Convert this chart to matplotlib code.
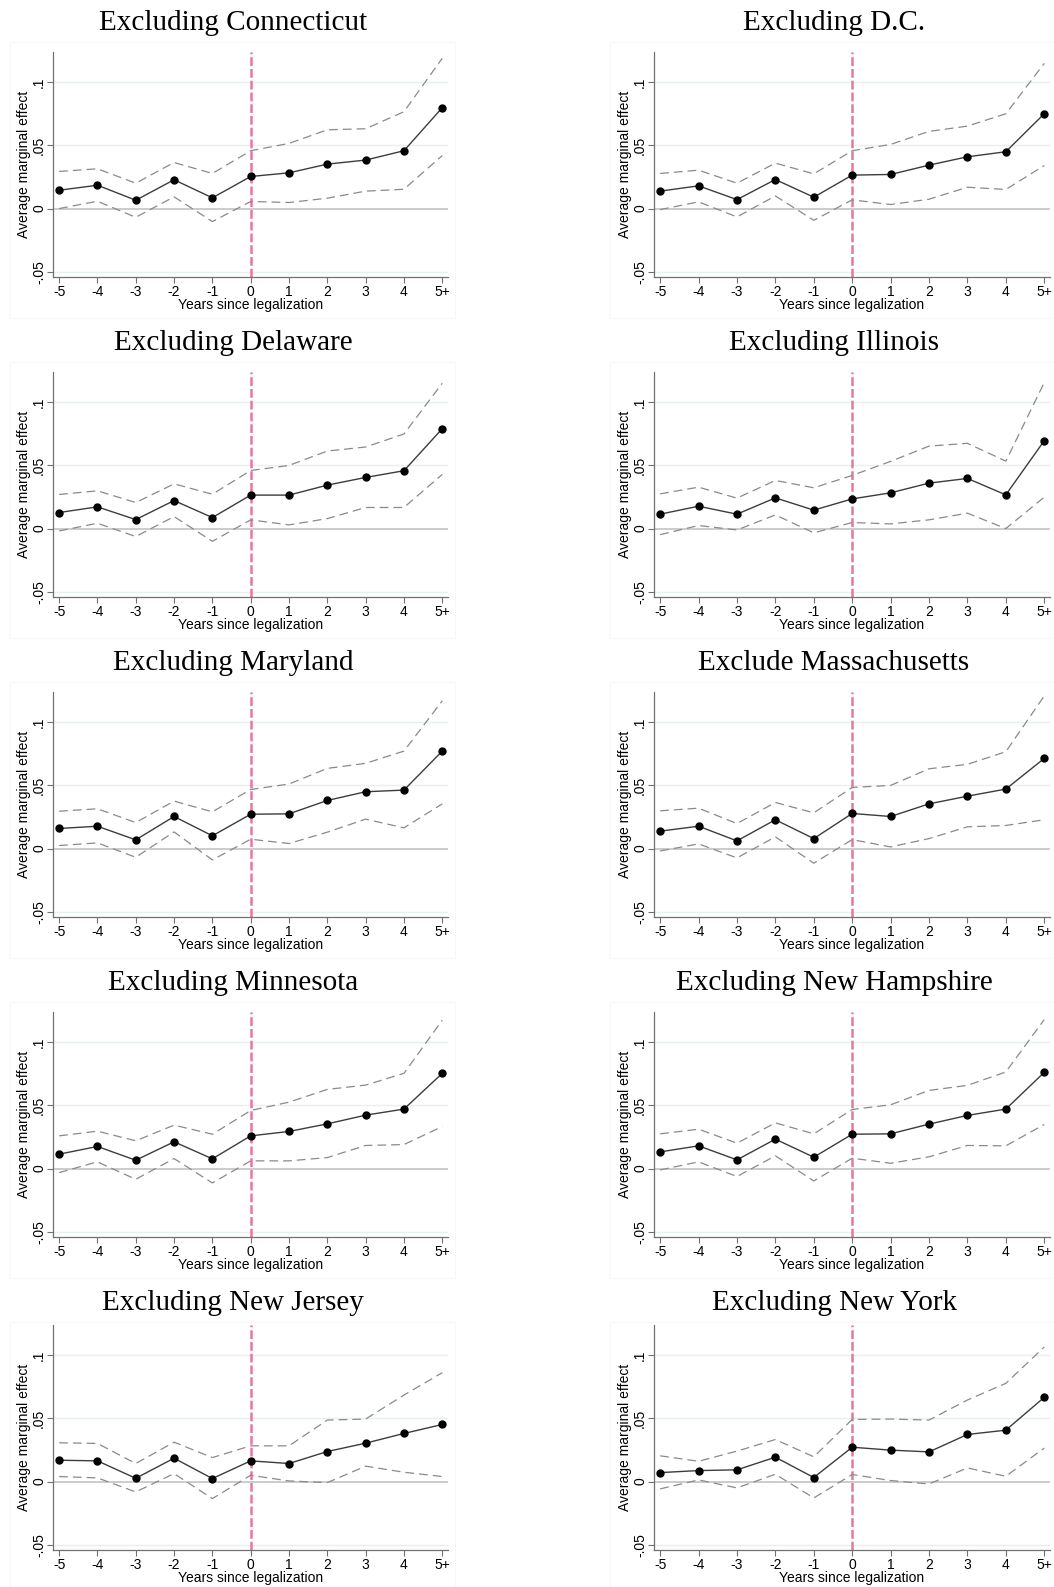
import matplotlib
matplotlib.use("Agg")
import matplotlib.pyplot as plt
from matplotlib.patches import Rectangle

years = [-5, -4, -3, -2, -1, 0, 1, 2, 3, 4, 5]
year_labels = ["-5", "-4", "-3", "-2", "-1", "0", "1", "2", "3", "4", "5+"]

titles = [
    "Excluding Connecticut", "Excluding D.C.",
    "Excluding Delaware", "Excluding Illinois",
    "Excluding Maryland", "Exclude Massachusetts",
    "Excluding Minnesota", "Excluding New Hampshire",
    "Excluding New Jersey", "Excluding New York",
]

# point estimates, upper and lower 95% bounds for each excluded state
ct_est = [0.0145, 0.0185, 0.0066, 0.0228, 0.0085, 0.0254, 0.0283, 0.0352, 0.0384, 0.0458, 0.0799]
ct_hi = [0.0294, 0.0315, 0.0201, 0.0365, 0.0278, 0.0458, 0.0516, 0.0624, 0.0632, 0.0767, 0.1190]
ct_lo = [0.0000, 0.0058, -0.0069, 0.0093, -0.0103, 0.0056, 0.0048, 0.0082, 0.0138, 0.0153, 0.0420]

dc_est = [0.0138, 0.0180, 0.0071, 0.0230, 0.0090, 0.0265, 0.0270, 0.0344, 0.0410, 0.0450, 0.0751]
dc_hi = [0.0278, 0.0304, 0.0201, 0.0360, 0.0275, 0.0458, 0.0508, 0.0611, 0.0653, 0.0751, 0.1150]
dc_lo = [-0.0008, 0.0053, -0.0066, 0.0100, -0.0093, 0.0069, 0.0032, 0.0074, 0.0169, 0.0151, 0.0341]

de_est = [0.0127, 0.0172, 0.0071, 0.0222, 0.0087, 0.0265, 0.0265, 0.0344, 0.0405, 0.0458, 0.0791]
de_hi = [0.0270, 0.0299, 0.0206, 0.0354, 0.0272, 0.0460, 0.0500, 0.0614, 0.0646, 0.0749, 0.1151]
de_lo = [-0.0019, 0.0042, -0.0063, 0.0095, -0.0101, 0.0069, 0.0029, 0.0079, 0.0167, 0.0167, 0.0429]

il_est = [0.0114, 0.0177, 0.0114, 0.0243, 0.0146, 0.0235, 0.0283, 0.0360, 0.0397, 0.0267, 0.0696]
il_hi = [0.0275, 0.0328, 0.0241, 0.0381, 0.0323, 0.0421, 0.0532, 0.0653, 0.0675, 0.0534, 0.1156]
il_lo = [-0.0048, 0.0024, -0.0011, 0.0108, -0.0034, 0.0048, 0.0037, 0.0069, 0.0122, 0.0000, 0.0249]

md_est = [0.0159, 0.0177, 0.0069, 0.0254, 0.0101, 0.0272, 0.0275, 0.0381, 0.0450, 0.0463, 0.0772]
md_hi = [0.0296, 0.0315, 0.0206, 0.0376, 0.0291, 0.0468, 0.0511, 0.0635, 0.0675, 0.0772, 0.1170]
md_lo = [0.0024, 0.0045, -0.0069, 0.0132, -0.0090, 0.0074, 0.0040, 0.0130, 0.0233, 0.0164, 0.0354]

ma_est = [0.0138, 0.0177, 0.0061, 0.0228, 0.0079, 0.0278, 0.0254, 0.0354, 0.0415, 0.0471, 0.0714]
ma_hi = [0.0299, 0.0320, 0.0198, 0.0365, 0.0283, 0.0484, 0.0500, 0.0632, 0.0667, 0.0767, 0.1209]
ma_lo = [-0.0019, 0.0037, -0.0074, 0.0093, -0.0116, 0.0071, 0.0013, 0.0079, 0.0172, 0.0183, 0.0228]

mn_est = [0.0114, 0.0175, 0.0066, 0.0212, 0.0077, 0.0259, 0.0294, 0.0354, 0.0423, 0.0471, 0.0754]
mn_hi = [0.0259, 0.0296, 0.0220, 0.0344, 0.0272, 0.0460, 0.0526, 0.0627, 0.0661, 0.0754, 0.1175]
mn_lo = [-0.0032, 0.0053, -0.0085, 0.0079, -0.0114, 0.0061, 0.0061, 0.0087, 0.0183, 0.0190, 0.0333]

nh_est = [0.0132, 0.0180, 0.0069, 0.0233, 0.0090, 0.0272, 0.0275, 0.0352, 0.0421, 0.0471, 0.0762]
nh_hi = [0.0275, 0.0312, 0.0201, 0.0362, 0.0275, 0.0468, 0.0505, 0.0619, 0.0659, 0.0765, 0.1180]
nh_lo = [-0.0011, 0.0053, -0.0063, 0.0101, -0.0098, 0.0082, 0.0042, 0.0093, 0.0183, 0.0180, 0.0349]

nj_est = [0.0169, 0.0164, 0.0026, 0.0185, 0.0024, 0.0164, 0.0143, 0.0238, 0.0304, 0.0381, 0.0452]
nj_hi = [0.0307, 0.0302, 0.0143, 0.0312, 0.0190, 0.0283, 0.0283, 0.0487, 0.0495, 0.0685, 0.0862]
nj_lo = [0.0040, 0.0029, -0.0082, 0.0063, -0.0135, 0.0050, 0.0005, -0.0008, 0.0122, 0.0074, 0.0040]

ny_est = [0.0071, 0.0087, 0.0093, 0.0193, 0.0032, 0.0272, 0.0249, 0.0235, 0.0373, 0.0407, 0.0667]
ny_hi = [0.0204, 0.0161, 0.0241, 0.0333, 0.0196, 0.0492, 0.0495, 0.0487, 0.0646, 0.0778, 0.1066]
ny_lo = [-0.0058, 0.0013, -0.0050, 0.0058, -0.0130, 0.0056, 0.0008, -0.0019, 0.0108, 0.0042, 0.0265]

panels = [
    (ct_est, ct_hi, ct_lo), (dc_est, dc_hi, dc_lo),
    (de_est, de_hi, de_lo), (il_est, il_hi, il_lo),
    (md_est, md_hi, md_lo), (ma_est, ma_hi, ma_lo),
    (mn_est, mn_hi, mn_lo), (nh_est, nh_hi, nh_lo),
    (nj_est, nj_hi, nj_lo), (ny_est, ny_hi, ny_lo),
]

W, H = 1054, 1587
fig = plt.figure(figsize=(W / 100, H / 100), dpi=100)
fig.patch.set_facecolor("white")

sans = ["Liberation Sans", "DejaVu Sans"]
serif = ["Liberation Serif", "DejaVu Serif"]

col_left = [53, 654]
col_width = [395, 396]
title_x = [233, 834]
frame_x = [10, 610]
row_step = 320

for i, (title, (est, hi, lo)) in enumerate(zip(titles, panels)):
    r, c = divmod(i, 2)
    # last row of axes sits a little higher so its x label stays on the page
    shift = 7 if r == 4 else 0
    top = 52 + row_step * r - shift
    bottom = 277 + row_step * r - shift

    # faint graph-region frame and panel title
    fig.patches.append(Rectangle((frame_x[c] / W, 1 - (318 + row_step * r) / H),
                                 445 / W, 276 / H, transform=fig.transFigure,
                                 fill=False, edgecolor="#f7f7f7", linewidth=0.8))
    fig.text(title_x[c] / W, 1 - (23 + row_step * r) / H, title, family=serif,
             fontsize=21, ha="center", va="center")

    ax = fig.add_axes([col_left[c] / W, 1 - bottom / H, col_width[c] / W, (bottom - top) / H])
    ax.set_xlim(-5.16, 5.15)
    ax.set_ylim(-0.0542, 0.124)

    for g in [-0.05, 0.05, 0.1]:
        ax.axhline(g, color="#e6f0f0", linewidth=1.0, zorder=0)
    ax.axhline(0, color="#c8c8c8", linewidth=1.3, zorder=1)
    ax.axvline(0, color="#e8789a", linewidth=1.8, linestyle=(0, (3.5, 1.2)), zorder=2)

    ax.plot(years, hi, color="#8a8a8a", linewidth=0.9, linestyle=(0, (7, 4)), zorder=3)
    ax.plot(years, lo, color="#8a8a8a", linewidth=0.9, linestyle=(0, (7, 4)), zorder=3)
    ax.plot(years, est, color="#3c3c3c", linewidth=1.0, marker="o", markersize=5,
            markerfacecolor="black", markeredgecolor="black", zorder=4)

    ax.set_xticks(years)
    ax.set_xticklabels(year_labels, family=sans, fontsize=10)
    ax.set_yticks([-0.05, 0, 0.05, 0.1])
    ax.set_yticklabels(["-.05", "0", ".05", ".1"], family=sans, fontsize=10,
                       rotation=90, va="center")
    ax.tick_params(axis="both", length=4, width=0.8, color="#707070", pad=2)
    ax.tick_params(axis="y", pad=1)
    ax.set_xlabel("Years since legalization", family=sans, fontsize=10, labelpad=-1)
    ax.set_ylabel("Average marginal effect", family=sans, fontsize=10, labelpad=1)

    for side in ["top", "right"]:
        ax.spines[side].set_visible(False)
    for side in ["left", "bottom"]:
        ax.spines[side].set_color("#707070")
        ax.spines[side].set_linewidth(0.9)

fig.savefig("out.png", dpi=100, facecolor="white")
